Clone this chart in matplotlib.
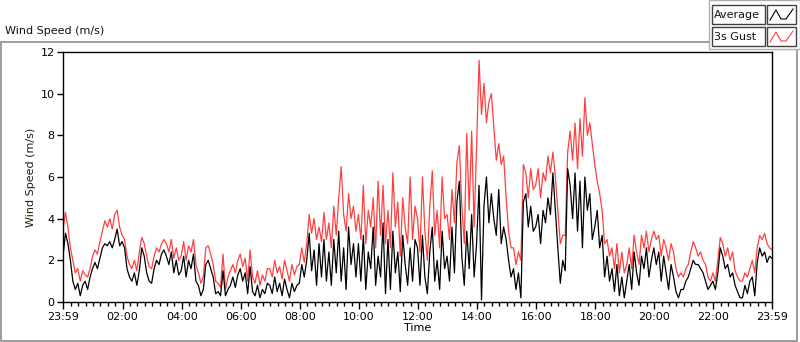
import numpy as np
import matplotlib
matplotlib.use("Agg")
import matplotlib.pyplot as plt
from matplotlib.patches import Rectangle
from matplotlib.lines import Line2D

# ---------------------------------------------------------
# Data : 5 minute samples, 23:59 -> 23:59 (one row per hour)
# ---------------------------------------------------------

average = [
    2.2, 3.3, 2.8, 2.0, 1.0, 0.6, 0.9, 0.3, 0.8, 1.0, 0.6, 1.2,
    1.6, 1.9, 1.6, 2.1, 2.6, 2.8, 2.7, 2.9, 2.6, 3.0, 3.5, 2.7,
    2.9, 2.6, 1.6, 1.2, 1.0, 1.4, 0.8, 1.5, 2.6, 2.2, 1.4, 1.0,
    0.9, 1.6, 2.0, 1.8, 2.3, 2.5, 2.2, 1.8, 2.4, 1.4, 2.0, 1.3,
    1.5, 2.2, 1.2, 2.0, 1.6, 2.3, 1.0, 0.8, 0.3, 0.6, 1.8, 2.0,
    1.6, 1.2, 0.4, 0.5, 0.3, 1.5, 0.3, 0.6, 0.8, 1.2, 0.7, 1.3,
    1.6, 1.0, 1.4, 0.4, 1.7, 0.5, 0.3, 0.8, 0.2, 0.6, 0.4, 0.9,
    0.8, 0.4, 1.2, 0.5, 0.9, 0.3, 1.1, 0.6, 0.2, 0.9, 0.5, 0.8,
    0.9, 1.8, 1.2, 2.0, 3.3, 1.5, 2.5, 0.8, 2.8, 1.2, 3.0, 1.0,
    2.4, 0.8, 3.0, 1.4, 3.4, 1.0, 2.6, 0.6, 3.6, 1.8, 2.8, 1.2,
    2.8, 1.0, 3.2, 0.6, 2.4, 1.6, 3.6, 0.8, 2.2, 1.2, 3.8, 0.4,
    3.0, 0.6, 3.4, 1.4, 2.4, 0.5, 3.2, 1.8, 0.8, 2.6, 1.0, 3.0,
    2.6, 0.8, 3.2, 1.2, 0.4, 2.4, 3.6, 1.0, 2.0, 0.6, 3.4, 1.6,
    2.2, 1.0, 3.6, 1.4, 4.8, 5.8, 2.2, 0.8, 3.4, 1.6, 4.2, 1.2,
    2.8, 5.6, 0.1, 4.6, 6.0, 3.8, 5.2, 4.0, 3.2, 5.4, 2.8, 3.6,
    3.0, 2.0, 1.2, 1.6, 0.6, 1.4, 0.2, 4.8, 5.2, 3.6, 4.6, 3.4,
    3.6, 4.2, 2.8, 4.4, 3.8, 5.0, 4.2, 6.2, 4.4, 2.6, 0.9, 2.0,
    1.5, 6.4, 5.6, 4.0, 6.2, 3.4, 5.8, 2.6, 6.0, 4.4, 5.2, 3.0,
    3.6, 4.4, 2.6, 3.2, 1.2, 2.2, 1.0, 1.6, 0.5, 1.8, 0.3, 1.2,
    0.2, 1.0, 1.8, 0.6, 2.4, 1.4, 0.8, 2.2, 1.6, 2.6, 1.2, 2.0,
    2.6, 1.8, 2.4, 1.0, 2.2, 1.4, 0.6, 1.8, 1.2, 0.5, 0.2, 0.6,
    0.6, 1.0, 1.2, 1.6, 2.0, 1.8, 1.8, 1.6, 1.4, 1.0, 0.6, 0.8,
    1.0, 0.6, 1.4, 2.6, 2.2, 1.6, 1.8, 1.2, 1.4, 0.8, 0.5, 0.2,
    0.2, 0.8, 0.4, 1.0, 1.2, 0.3, 1.9, 2.6, 2.2, 2.4, 1.9, 2.2,
    2.1,
]

gust = [
    3.5, 4.3, 3.6, 2.6, 2.0, 1.4, 1.6, 1.0, 1.5, 1.3, 1.2, 1.6,
    2.2, 2.5, 2.3, 2.9, 3.4, 3.9, 3.6, 4.0, 3.5, 4.2, 4.4, 3.6,
    3.2, 3.0, 2.2, 1.8, 1.6, 2.0, 1.5, 2.4, 3.1, 2.8, 2.2, 1.7,
    1.6, 2.2, 2.6, 2.4, 2.8, 3.0, 2.8, 2.4, 3.0, 2.1, 2.6, 2.0,
    2.2, 2.9, 2.0, 2.7, 2.4, 3.0, 1.8, 1.4, 0.9, 1.2, 2.6, 2.7,
    2.3, 1.8, 1.0, 0.9, 0.7, 2.3, 0.6, 1.2, 1.5, 1.8, 1.4, 2.0,
    2.3, 1.7, 2.1, 1.0, 2.5, 1.2, 0.9, 1.5, 0.8, 1.3, 1.0, 1.6,
    1.6, 1.2, 2.0, 1.4, 1.7, 1.1, 2.0, 1.5, 1.0, 1.8, 1.3, 1.7,
    1.8, 2.6, 1.9, 2.8, 4.2, 3.3, 4.0, 3.0, 3.6, 2.9, 4.3, 3.0,
    3.8, 2.6, 4.6, 3.2, 5.0, 6.5, 4.2, 3.4, 5.2, 4.0, 4.6, 3.4,
    4.2, 3.0, 5.6, 2.8, 4.4, 3.6, 5.0, 2.6, 5.8, 3.2, 5.6, 2.8,
    4.4, 2.6, 6.2, 3.6, 4.8, 2.2, 5.0, 3.6, 2.8, 6.0, 3.0, 4.6,
    4.0, 2.4, 6.0, 3.4, 2.0, 4.6, 6.3, 3.2, 4.4, 2.6, 6.0, 4.0,
    4.2, 3.0, 5.4, 3.8, 6.7, 7.5, 4.6, 2.8, 8.1, 4.4, 8.2, 3.6,
    7.5, 11.6, 9.0, 10.5, 8.6, 9.6, 10.0, 8.4, 6.8, 7.6, 6.6, 7.0,
    5.0, 3.4, 2.6, 2.6, 1.8, 2.4, 2.0, 6.6, 6.2, 5.0, 6.4, 5.4,
    5.6, 6.4, 5.0, 6.2, 5.8, 7.0, 6.2, 7.2, 6.0, 4.4, 2.8, 3.2,
    3.2, 7.2, 8.2, 6.8, 8.6, 6.4, 8.8, 7.0, 9.8, 8.0, 8.6, 7.6,
    6.6, 5.8, 5.2, 4.4, 2.8, 3.0, 2.2, 2.6, 1.6, 2.8, 1.4, 2.4,
    1.4, 1.8, 2.6, 1.6, 3.2, 2.4, 1.8, 3.2, 2.6, 3.4, 2.4, 3.0,
    3.4, 3.0, 3.2, 2.2, 3.0, 2.6, 2.0, 2.8, 2.4, 1.6, 1.2, 1.4,
    1.2, 1.6, 1.8, 2.4, 2.9, 2.6, 2.2, 2.4, 2.0, 1.8, 1.2, 1.0,
    1.4, 1.0, 2.0, 3.1, 2.8, 2.2, 2.6, 2.0, 2.4, 1.5, 1.2, 1.0,
    1.0, 1.4, 1.2, 1.6, 2.0, 1.4, 2.6, 3.2, 3.0, 3.3, 2.8, 2.6,
    2.5,
]

minutes = np.arange(len(average)) * 5

tick_pos = [0, 121, 241, 361, 481, 601, 721, 841, 961, 1081, 1201, 1321, 1440]
tick_labels = ["23:59", "02:00", "04:00", "06:00", "08:00", "10:00", "12:00",
               "14:00", "16:00", "18:00", "20:00", "22:00", "23:59"]

# ---------------------------------------------------------
# Figure
# ---------------------------------------------------------

W, H = 800, 342
fig = plt.figure(figsize=(W / 100, H / 100), dpi=100)
fig.patch.set_facecolor("white")

def fx(px):
    return px / W

def fy(py):
    return 1 - py / H

# outer grey panel frame
fig.add_artist(Rectangle((fx(1), fy(341)), fx(796), (341 - 42) / H,
                         transform=fig.transFigure, fill=False,
                         edgecolor="#8c8c8c", lw=1.2))

fig.text(fx(5), fy(31), "Wind Speed (m/s)", fontsize=8, color="#111111",
         va="center", ha="left")

ax = fig.add_axes([fx(63), fy(302), (772 - 63) / W, (302 - 52) / H])

ax.plot(minutes, gust, color="#ff4040", lw=0.9)
ax.plot(minutes, average, color="black", lw=0.9)

ax.set_xlim(0, 1440)
ax.set_ylim(0, 12)
ax.set_yticks(range(0, 13, 2))
ax.set_xticks(tick_pos)
ax.set_xticklabels(tick_labels)
ax.set_xticks(np.arange(16, 1440, 15), minor=True)
ax.tick_params(axis="both", labelsize=8, direction="out", color="black")
ax.tick_params(axis="x", which="major", length=5, width=1, pad=2)
ax.tick_params(axis="x", which="minor", length=3, width=1)
ax.tick_params(axis="y", length=4, width=1, pad=2)
for s in ax.spines.values():
    s.set_linewidth(1)
    s.set_color("black")

ax.set_xlabel("Time", fontsize=8, labelpad=1)
ax.set_ylabel("Wind Speed (m/s)", fontsize=8, labelpad=3, color="#2a1a0a")

# legend panel (LabVIEW style: name box + line icon box)
fig.add_artist(Rectangle((fx(709), fy(49)), fx(91), 49 / H,
                         transform=fig.transFigure, facecolor="white",
                         edgecolor="#b0b0b0", lw=1))

legend_items = [("Average", "black", 5), ("3s Gust", "#ff4040", 27)]
for name, col, top in legend_items:
    fig.add_artist(Rectangle((fx(712), fy(top + 19)), fx(53), 19 / H,
                             transform=fig.transFigure, facecolor="white",
                             edgecolor="#404040", lw=1))
    fig.text(fx(714), fy(top + 9.5), name, fontsize=8, va="center",
             ha="left", color="#111111")
    fig.add_artist(Rectangle((fx(767), fy(top + 19)), fx(29), 19 / H,
                             transform=fig.transFigure, facecolor="white",
                             edgecolor="#404040", lw=1))
    zx = [770, 776, 781, 786, 793]
    zy = [top + 15, top + 5, top + 14, top + 14, top + 4]
    fig.add_artist(Line2D([fx(v) for v in zx], [fy(v) for v in zy],
                          transform=fig.transFigure, color=col, lw=0.8))

fig.savefig("out.png", dpi=100)
